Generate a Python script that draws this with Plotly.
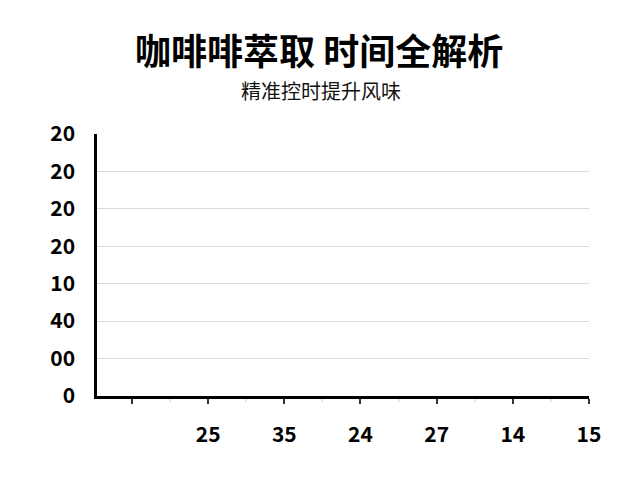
import plotly.graph_objects as go

# tick labels
x_labels = ["", "25", "35", "24", "27", "14", "15"]
y_labels = ["0", "00", "40", "10", "20", "20", "20", "20"]
# the chart shows no visible marks
values = [0, 0, 0, 0, 0, 0, 0]

x_pos = list(range(len(x_labels)))
y_pos = list(range(len(y_labels)))

fig = go.Figure(layout={
    "font": dict(family="Noto Sans CJK SC", size=18, color="black")
})

fig.add_trace(go.Bar(x=x_pos, y=values, marker=dict(color="#4a7ebb", line=dict(width=0)),
                     showlegend=False, hoverinfo="skip"))

fig.add_annotation(text="<b>咖啡啡萃取 时间全解析</b>", xref="paper", yref="paper",
                   x=0.451, y=1.0, yshift=85, yanchor="middle", showarrow=False,
                   font=dict(size=36, color="black"))
fig.add_annotation(text="精准控时提升风味", xref="paper", yref="paper",
                   x=0.455, y=1.0, yshift=44, yanchor="middle", showarrow=False,
                   font=dict(size=20, color="#111111"))

fig.update_xaxes(range=[-0.459, 6.0], tickmode="array", tickvals=x_pos, ticktext=x_labels,
                 showgrid=False, zeroline=False, showline=True, linecolor="black", linewidth=2.5,
                 ticks="outside", ticklen=5, tickcolor="#333333", tickwidth=1.5,
                 minor=dict(ticks="outside", ticklen=3, tickcolor="#e6e6e6", dtick=0.5, tick0=0.5),
                 ticklabelstandoff=13, tickfont=dict(size=21, family="Noto Sans CJK SC", weight="bold"))
fig.update_yaxes(range=[0, 7], tickmode="array", tickvals=y_pos, ticktext=y_labels,
                 showgrid=True, gridcolor="#d9d9d9", gridwidth=1, zeroline=False,
                 showline=True, linecolor="black", linewidth=2.5, ticks="",
                 ticklabelstandoff=15, tickfont=dict(size=21, family="Noto Sans CJK SC", weight="bold"))

# the page body adds an 8px offset, so shift margins to compensate
fig.update_layout(width=640, height=480, margin=dict(l=89, r=59, t=126, b=92),
                  plot_bgcolor="white", paper_bgcolor="white")

fig.write_html("out.html")
